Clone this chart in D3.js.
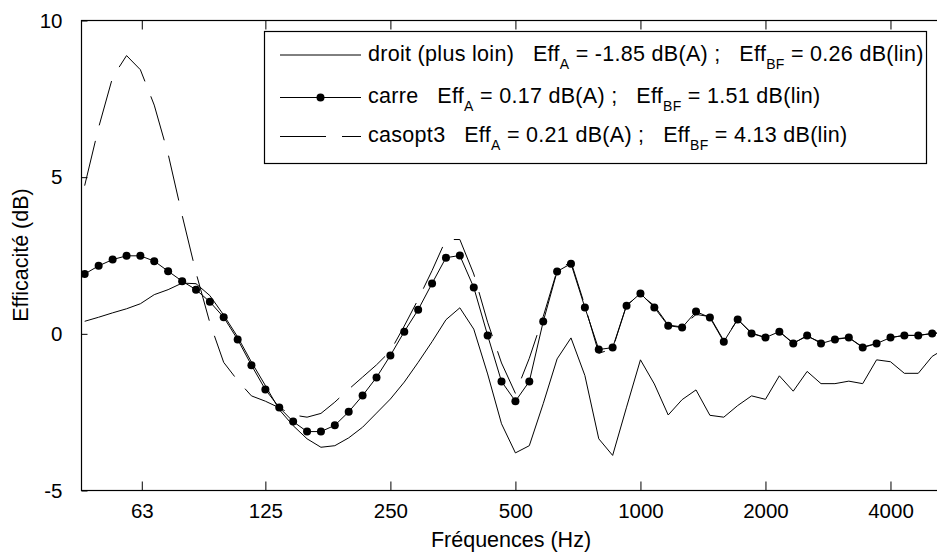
<!DOCTYPE html>
<html>
<head>
<meta charset="utf-8">
<script src="https://cdn.jsdelivr.net/npm/d3@7/dist/d3.min.js"></script>
<style>
  html, body { margin: 0; padding: 0; background: #fff; overflow: hidden; }
  svg { display: block; font-family: "Liberation Sans", Arial, Helvetica, sans-serif; }
  text { white-space: pre; }
</style>
</head>
<body>
<svg id="chart" width="937" height="552"></svg>
<script>
// 1/9-octave band centre frequencies (Hz)
const freqs = [45.9, 49.6, 53.6, 57.9, 62.5, 67.5, 72.9, 78.8, 85.1, 91.9, 99.2, 107.2, 115.7,
  125, 135.0, 145.8, 157.5, 170.1, 183.7, 198.4, 214.3, 231.5,
  250, 270.0, 291.6, 315.0, 340.2, 367.4, 396.9, 428.6, 462.9,
  500, 540.0, 583.3, 630.0, 680.4, 734.9, 793.7, 857.2, 925.9,
  1000, 1080.1, 1166.5, 1259.9, 1360.8, 1469.7, 1587.4, 1714.5, 1851.7,
  2000, 2160.1, 2333.1, 2519.8, 2721.6, 2939.5, 3174.8, 3429.0, 3703.5,
  4000, 4320.2, 4666.1, 5039.7, 5443.2];

const droit = [0.40, 0.53, 0.67, 0.80, 0.96, 1.25, 1.41, 1.62, 1.60, 1.22, 0.60, -0.10, -0.90,
  -1.65, -2.42, -2.93, -3.35, -3.62, -3.57, -3.32, -2.98, -2.53,
  -2.08, -1.54, -0.91, -0.25, 0.45, 0.83, 0.15, -1.28, -2.87,
  -3.80, -3.57, -2.23, -0.80, -0.13, -1.33, -3.35, -3.88, -2.34,
  -0.83, -1.60, -2.59, -2.10, -1.79, -2.60, -2.66, -2.29, -1.98,
  -2.09, -1.34, -1.83, -1.20, -1.59, -1.59, -1.51, -1.59, -0.83,
  -0.89, -1.26, -1.26, -0.72, -0.45];

const carre = [1.91, 2.17, 2.37, 2.49, 2.49, 2.32, 2.00, 1.68, 1.41, 1.02, 0.53, -0.18, -1.00,
  -1.78, -2.35, -2.80, -3.12, -3.12, -2.92, -2.49, -1.97, -1.39,
  -0.69, 0.07, 0.77, 1.61, 2.43, 2.50, 1.48, -0.05, -1.52,
  -2.15, -1.52, 0.39, 1.99, 2.24, 0.84, -0.50, -0.44, 0.90,
  1.29, 0.84, 0.26, 0.20, 0.71, 0.52, -0.25, 0.46, 0.01,
  -0.12, 0.07, -0.31, -0.05, -0.31, -0.18, -0.12, -0.44, -0.31,
  -0.12, -0.05, -0.05, 0.01, 0.05];

const casopt3 = [4.73, 6.59, 8.19, 8.88, 8.43, 7.30, 5.74, 3.78, 1.95, 0.35, -0.91, -1.49, -1.98,
  -2.15, -2.36, -2.59, -2.66, -2.54, -2.18, -1.77, -1.38, -0.99,
  -0.55, 0.25, 1.10, 2.02, 3.01, 3.01, 1.91, 0.37, -0.93,
  -1.90, -0.78, 0.55, 2.02, 2.30, 0.90, -0.62, -0.48, 0.92,
  1.25, 0.90, 0.28, 0.22, 0.62, 0.55, -0.22, 0.46, 0.03,
  -0.12, 0.07, -0.29, -0.08, -0.27, -0.16, -0.12, -0.42, -0.31,
  -0.12, -0.05, -0.05, 0.01, 0.05];

const xTickValues = [63, 125, 250, 500, 1000, 2000, 4000];
const xTickLabels = ["63", "125", "250", "500", "1000", "2000", "4000"];
const yTickValues = [-5, 0, 5, 10];
const yTickLabels = ["-5", "0", "5", "10"];

const seriesNames = ["droit (plus loin)", "carre", "casopt3"];
const effA = ["-1.85", "0.17", "0.21"];
const effBF = ["0.26", "1.51", "4.13"];

const xTitle = "Fréquences (Hz)";
const yTitle = "Efficacité (dB)";

// ---------------------------------------------------------------
const svg = d3.select("#chart");
const pLeft = 81.5, pTop = 20.5, pBottom = 490.5, pRight = 953;

const x = d3.scaleLog().domain([45.1, 5657]).range([pLeft, pRight]);
const y = d3.scaleLinear().domain([-5, 10]).range([pBottom, pTop]);

const fontSize = 20.5;
const ff = "'Liberation Sans', Arial, Helvetica, sans-serif";

svg.append("defs").append("clipPath").attr("id", "plotclip")
  .append("rect").attr("x", pLeft).attr("y", pTop).attr("width", pRight - pLeft).attr("height", pBottom - pTop);

const xAxisB = d3.axisBottom(x).tickValues(xTickValues)
  .tickFormat((d, i) => xTickLabels[i]).tickSizeInner(-9).tickSizeOuter(0).tickPadding(13);
const xAxisT = d3.axisTop(x).tickValues(xTickValues)
  .tickFormat("").tickSizeInner(-9).tickSizeOuter(0);
const yAxisL = d3.axisLeft(y).tickValues(yTickValues)
  .tickFormat((d, i) => yTickLabels[i]).tickSizeInner(-6).tickSizeOuter(0).tickPadding(19);

function styleAxis(g) {
  g.select(".domain").remove();
  g.selectAll(".tick line").attr("stroke", "#000").attr("stroke-width", 1);
  g.selectAll(".tick text").attr("fill", "#000").style("font-size", fontSize + "px")
    .style("font-family", ff);
}

svg.append("g").attr("transform", `translate(0,${pBottom})`).call(xAxisB).call(styleAxis);
svg.append("g").attr("transform", `translate(0,${pTop})`).call(xAxisT).call(styleAxis);
svg.append("g").attr("transform", `translate(${pLeft},0)`).call(yAxisL).call(styleAxis);

svg.append("rect").attr("x", pLeft).attr("y", pTop).attr("width", pRight - pLeft).attr("height", pBottom - pTop)
  .attr("fill", "none").attr("stroke", "#000").attr("stroke-width", 1.2);

const line = d3.line().x(d => x(d[0])).y(d => y(d[1]));
const plot = svg.append("g").attr("clip-path", "url(#plotclip)");

const zip = arr => freqs.map((f, i) => [f, arr[i]]);

plot.append("path").datum(zip(droit)).attr("d", line)
  .attr("fill", "none").attr("stroke", "#000").attr("stroke-width", 1);
plot.append("path").datum(zip(casopt3)).attr("d", line)
  .attr("fill", "none").attr("stroke", "#000").attr("stroke-width", 1).attr("stroke-dasharray", "46,16");
plot.append("path").datum(zip(carre)).attr("d", line)
  .attr("fill", "none").attr("stroke", "#000").attr("stroke-width", 1);
plot.selectAll("circle.dot").data(zip(carre)).enter().append("circle").attr("class", "dot")
  .attr("cx", d => x(d[0])).attr("cy", d => y(d[1])).attr("r", 4).attr("fill", "#000");

// Legend
const lg = svg.append("g");
const lx = 264.5, ly = 31.5, lw = 662, lh = 132;
lg.append("rect").attr("x", lx).attr("y", ly).attr("width", lw).attr("height", lh)
  .attr("fill", "#fff").attr("stroke", "#000").attr("stroke-width", 1.2);
const rowY = [55, 97.5, 136.5];
const dashes = [null, null, "46,16"];
seriesNames.forEach((name, i) => {
  const ry = rowY[i];
  lg.append("line").attr("x1", 280).attr("x2", 361).attr("y1", ry).attr("y2", ry)
    .attr("stroke", "#000").attr("stroke-width", 1).attr("stroke-dasharray", dashes[i]);
  if (i === 1) lg.append("circle").attr("cx", 320.5).attr("cy", ry).attr("r", 4).attr("fill", "#000");
  const t = lg.append("text").attr("x", 368).attr("y", ry + 5.5).attr("fill", "#000")
    .style("font-size", "21.5px").style("letter-spacing", "0.3px").style("font-family", ff);
  t.append("tspan").text(name + "   Eff");
  t.append("tspan").attr("dy", 8).style("font-size", "14px").text("A");
  t.append("tspan").attr("dy", -8).text(" = " + effA[i] + " dB(A) ;   Eff");
  t.append("tspan").attr("dy", 8).style("font-size", "14px").text("BF");
  t.append("tspan").attr("dy", -8).text(" = " + effBF[i] + " dB(lin)");
});

// Titles
svg.append("text").attr("x", 511).attr("y", 547).attr("text-anchor", "middle")
  .style("font-size", "21.5px").style("font-family", ff).attr("fill", "#000").text(xTitle);
svg.append("text").attr("transform", "translate(28,255) rotate(-90)").attr("text-anchor", "middle")
  .style("font-size", "21.5px").style("font-family", ff).attr("fill", "#000").text(yTitle);
</script>
</body>
</html>
